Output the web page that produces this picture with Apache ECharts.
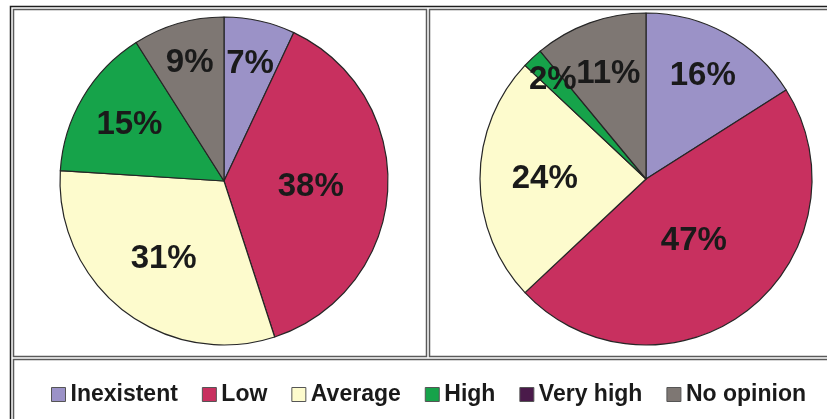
<!DOCTYPE html>
<html>
<head>
<meta charset="utf-8">
<script src="https://cdn.jsdelivr.net/npm/echarts@6/dist/echarts.min.js"></script>
<style>
  html, body { margin: 0; padding: 0; background: #fff; }
  #chart { width: 827px; height: 419px; }
</style>
</head>
<body>
<div id="chart"></div>
<script>
// Opinion categories shared by both pies and the legend
const categories = ['Inexistent', 'Low', 'Average', 'High', 'Very high', 'No opinion'];
// Percent shares for each pie
const leftShares = [7, 38, 31, 15, 0, 9];
const rightShares = [16, 47, 24, 2, 0, 11];

// Styling
const palette = ['#9b92c7', '#c8305f', '#fdfbcd', '#16a34a', '#4a1a4a', '#7e7773'];
const FONT = "'Liberation Sans', Arial, sans-serif";
const pies = [
  { center: [224, 181], radius: 164, labelReach: [0.73, 0.53, 0.60, 0.67, 0.5, 0.75] },
  { center: [646, 179], radius: 166, labelReach: [0.71, 0.47, 0.61, 0.82, 0.5, 0.67] }
];
const shareSets = [leftShares, rightShares];

function pieData(values) {
  return categories.map((name, i) => {
    const item = { name: name, value: values[i], itemStyle: { color: palette[i] } };
    if (values[i] === 0) {
      item.label = { show: false };
      item.itemStyle.borderWidth = 0;
    }
    return item;
  });
}

// Place each percentage label along the bisector of its slice
function placeLabel(params) {
  const s = params.seriesIndex;
  const i = params.dataIndex;
  const values = shareSets[s];
  const total = values.reduce((a, b) => a + b, 0);
  let before = 0;
  for (let k = 0; k < i; k++) before += values[k];
  const mid = (before + values[i] / 2) / total * Math.PI * 2;
  const p = pies[s];
  const d = p.radius * p.labelReach[i];
  return {
    x: p.center[0] + d * Math.sin(mid),
    y: p.center[1] - d * Math.cos(mid),
    align: 'center',
    verticalAlign: 'middle'
  };
}

function pieSeries(idx, values) {
  const p = pies[idx];
  return {
    type: 'pie',
    center: p.center,
    radius: p.radius,
    startAngle: 90,
    clockwise: true,
    animation: false,
    silent: true,
    itemStyle: { borderColor: '#262626', borderWidth: 1.2 },
    label: {
      show: true,
      position: 'inside',
      formatter: '{c}%',
      fontFamily: FONT,
      fontSize: 33,
      fontWeight: 'bold',
      color: '#1a1a1a'
    },
    labelLine: { show: false },
    labelLayout: placeLabel,
    emphasis: { disabled: true },
    data: pieData(values)
  };
}

const chart = echarts.init(document.getElementById('chart'), null, { renderer: 'canvas' });
chart.setOption({
  backgroundColor: '#ffffff',
  animation: false,
  graphic: [
    { type: 'rect', shape: { x: 10.5, y: 6.5, width: 900, height: 500 },
      style: { fill: 'none', stroke: '#1e1e1e', lineWidth: 1.5 }, z: -1 },
    { type: 'rect', shape: { x: 13.5, y: 9.5, width: 413, height: 347 },
      style: { fill: 'none', stroke: '#5a5a5a', lineWidth: 1.5 }, z: -1 },
    { type: 'rect', shape: { x: 429.5, y: 9.5, width: 500, height: 347 },
      style: { fill: 'none', stroke: '#5a5a5a', lineWidth: 1.5 }, z: -1 },
    { type: 'rect', shape: { x: 13.5, y: 359.5, width: 900, height: 100 },
      style: { fill: 'none', stroke: '#5a5a5a', lineWidth: 1.5 }, z: -1 }
  ],
  legend: {
    data: categories,
    orient: 'horizontal',
    left: 46,
    top: 378,
    icon: 'rect',
    itemWidth: 14,
    itemHeight: 14,
    itemGap: 24,
    selectedMode: false,
    itemStyle: { borderColor: '#555', borderWidth: 1 },
    textStyle: { fontFamily: FONT, fontSize: 23, fontWeight: 'bold', color: '#1a1a1a' }
  },
  series: [pieSeries(0, leftShares), pieSeries(1, rightShares)]
});
</script>
</body>
</html>
